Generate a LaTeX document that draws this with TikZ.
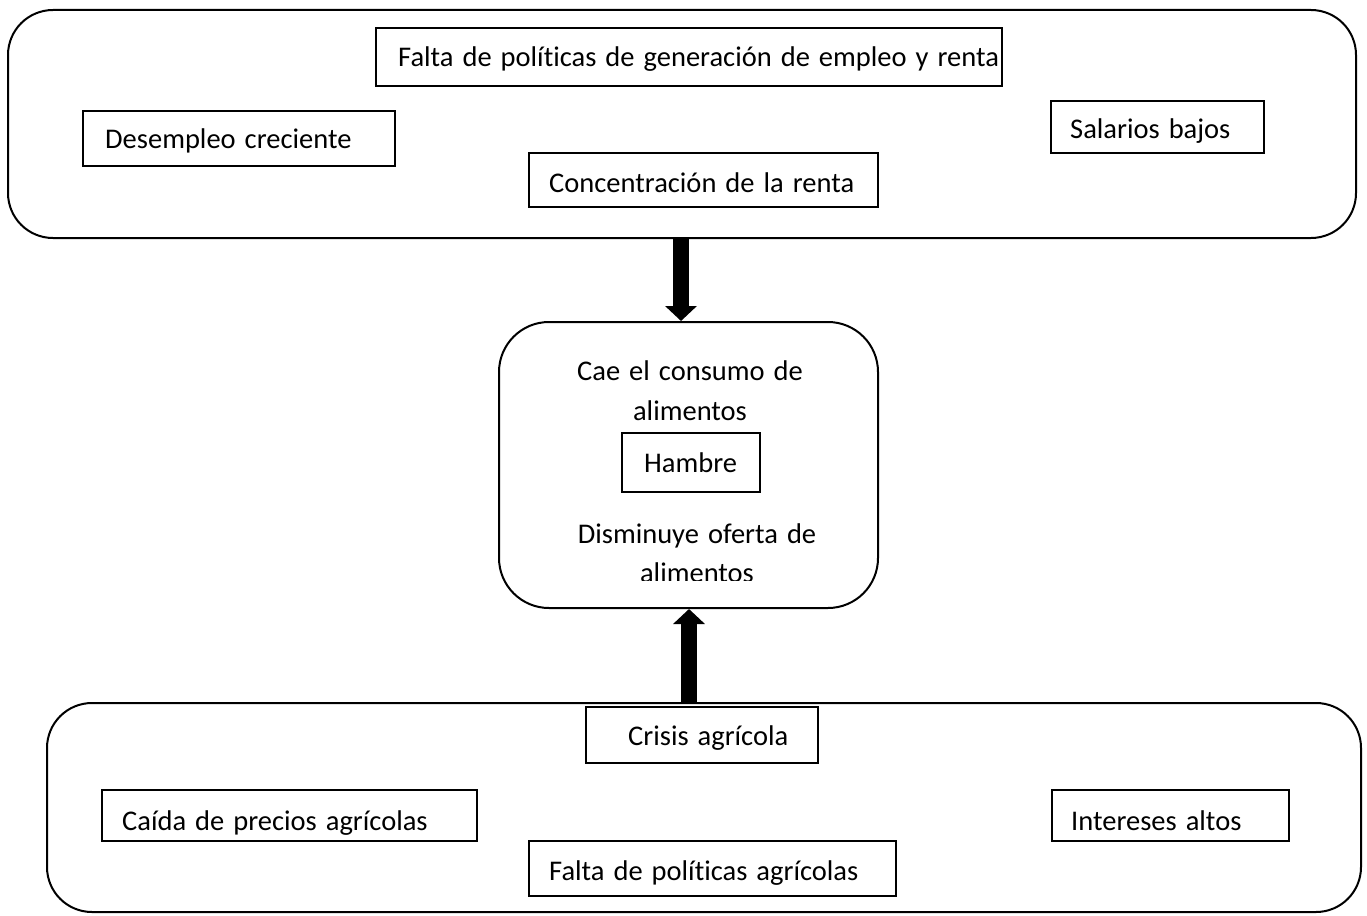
\documentclass[tikz,border=0pt]{standalone}
\usepackage{fontspec}
\setmainfont[Ligatures=NoCommon,WordSpace=1.4]{Carlito}
\usetikzlibrary{arrows.meta}
\begin{document}
\begin{tikzpicture}[x=1pt,y=-1pt,
  bigbox/.style={draw, line width=2pt, rounded corners=45pt, inner sep=0pt},
  bx/.style={draw, line width=1.2pt, inner sep=0pt},
  txt/.style={inner sep=0pt, font=\fontsize{28.5}{40}\selectfont},
  bigarrow/.style={line width=16pt, -{Triangle[width=31pt,length=15pt]}}]
\useasboundingbox (0,0) rectangle (1367,915);
% outer boxes
\node[bigbox, minimum width=1348pt, minimum height=228pt] (top) at (682,124) {};
\node[bigbox, rounded corners=50pt, minimum width=379pt, minimum height=286pt] (mid) at (688.5,465) {};
\node[bigbox, minimum width=1314pt, minimum height=209pt] (bot) at (704,807.5) {};
% top boxes
\node[bx, minimum width=626pt, minimum height=58pt] (f1) at (689,57) {};
\node[txt, anchor=base west] (f1t) at (398,67) {Falta de políticas de generación de empleo y renta};
\node[bx, minimum width=312pt, minimum height=55pt] (d1) at (239,138.5) {};
\node[txt, anchor=base west] (d1t) at (105,148) {Desempleo creciente};
\node[bx, minimum width=213pt, minimum height=52pt] (s1) at (1157.5,127) {};
\node[txt, anchor=base west] (s1t) at (1070,139) {Salarios bajos};
\node[bx, minimum width=349pt, minimum height=54pt] (c1) at (703.5,180) {};
\node[txt, anchor=base west] (c1t) at (549,192) {Concentración de la renta};
% middle
\node[txt, anchor=base] (m1) at (690,380) {Cae el consumo de};
\node[txt, anchor=base] (m2) at (690,420) {alimentos};
\node[bx, minimum width=138pt, minimum height=59pt] (h1) at (691,462.5) {};
\node[txt, anchor=base west] (h1t) at (644,472) {Hambre};
\node[txt, anchor=base] (m3) at (697,543) {Disminuye oferta de};
\begin{scope}
\clip (560,540) rectangle (840,580);
\node[txt, anchor=base] (m4) at (697,582) {alimentos};
\end{scope}
% bottom boxes
\node[bx, minimum width=232pt, minimum height=56pt] (ca) at (702,735) {};
\node[txt, anchor=base west] (cat) at (628,745) {Crisis agrícola};
\begin{scope}
\clip (102,790) rectangle (477,841);
\node[txt, anchor=base west] (cpt) at (122,830) {Caída de precios agrícolas};
\end{scope}
\node[bx, minimum width=375pt, minimum height=51pt] (cp) at (289.5,815.5) {};
\node[bx, minimum width=237pt, minimum height=51pt] (ia) at (1170.5,815.5) {};
\node[txt, anchor=base west] (iat) at (1071,830) {Intereses altos};
\node[bx, minimum width=367pt, minimum height=55pt] (fa) at (712.5,868.5) {};
\node[txt, anchor=base west] (fat) at (549,880) {Falta de políticas agrícolas};
% arrows
\draw[bigarrow] ([xshift=-1pt]top.south) -- ([xshift=-7.5pt]mid.north);
\draw[bigarrow] ([xshift=-15pt]bot.north) -- ([xshift=0.5pt]mid.south);
\end{tikzpicture}
\end{document}
